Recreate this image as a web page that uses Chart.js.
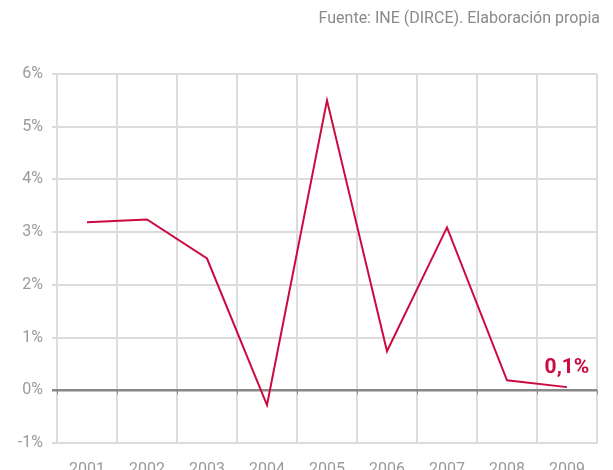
<!DOCTYPE html>
<html>
<head>
<meta charset="utf-8">
<script src="https://cdn.jsdelivr.net/npm/chart.js@4"></script>
<style>
  html, body { margin: 0; padding: 0; background: #fff; }
  #wrap { width: 613px; height: 470px; }
</style>
</head>
<body>
<div id="wrap"><canvas id="myChart" width="613" height="470"></canvas></div>
<script>
const years = ['2001', '2002', '2003', '2004', '2005', '2006', '2007', '2008', '2009'];
const growth = [3.19, 3.24, 2.5, -0.28, 5.5, 0.74, 3.09, 0.19, 0.06];
const lastLabel = '0,1%';
const source = 'Fuente: INE (DIRCE). Elaboración propia';

const red = '#cc0a40';
const grey = '#9a9a9a';

// texto de fuente, etiqueta final y marcas sobre el eje 0
const extras = {
  id: 'extras',
  afterDatasetsDraw(chart) {
    const ctx = chart.ctx;
    const x = chart.scales.x, y = chart.scales.y;
    const y0 = y.getPixelForValue(0);
    ctx.save();
    ctx.strokeStyle = '#888';
    ctx.lineWidth = 1;
    for (let i = 0; i <= years.length; i++) {
      const px = Math.round(x.getPixelForValue(i - 0.5)) + 0.5;
      ctx.beginPath();
      ctx.moveTo(px, y0);
      ctx.lineTo(px, y0 + 4);
      ctx.stroke();
    }
    const meta = chart.getDatasetMeta(0);
    const p = meta.data[meta.data.length - 1];
    ctx.fillStyle = red;
    ctx.font = 'bold 21px Roboto';
    ctx.textAlign = 'center';
    ctx.textBaseline = 'alphabetic';
    ctx.fillText(lastLabel, p.x, p.y - 14);

    ctx.fillStyle = '#8a8a8a';
    ctx.font = '16px Roboto';
    ctx.textAlign = 'right';
    ctx.textBaseline = 'middle';
    ctx.fillText(source, 600, 19);
    ctx.restore();
  }
};

const ctx = document.getElementById('myChart').getContext('2d');
const myChart = new Chart(ctx, {
  type: 'line',
  data: {
    labels: years,
    datasets: [{
      data: growth,
      borderColor: red,
      borderWidth: 2,
      pointRadius: 0,
      tension: 0,
      fill: false
    }]
  },
  options: {
    responsive: false,
    animation: false,
    layout: { padding: { top: 74, right: 16, left: 0, bottom: 0 } },
    plugins: {
      legend: { display: false },
      tooltip: { enabled: false }
    },
    scales: {
      x: {
        offset: true,
        grid: { offset: true, color: '#dcdcdc', lineWidth: 2, drawTicks: false },
        border: { color: '#dcdcdc', width: 2 },
        ticks: { color: grey, font: { family: 'Roboto', size: 16 }, padding: 17 },
        afterFit(s) { s.height = 27; }
      },
      y: {
        min: -1,
        max: 6,
        ticks: {
          stepSize: 1,
          color: grey,
          font: { family: 'Roboto', size: 16 },
          padding: 9,
          callback: v => v + '%'
        },
        grid: {
          tickLength: 5,
          color: c => c.tick && c.tick.value === 0 ? '#888' : '#dcdcdc',
          lineWidth: c => c.tick && c.tick.value === 0 ? 2.5 : 2
        },
        border: { display: false },
        afterFit(s) { s.width = 57; }
      }
    }
  },
  plugins: [extras]
});
</script>
</body>
</html>
